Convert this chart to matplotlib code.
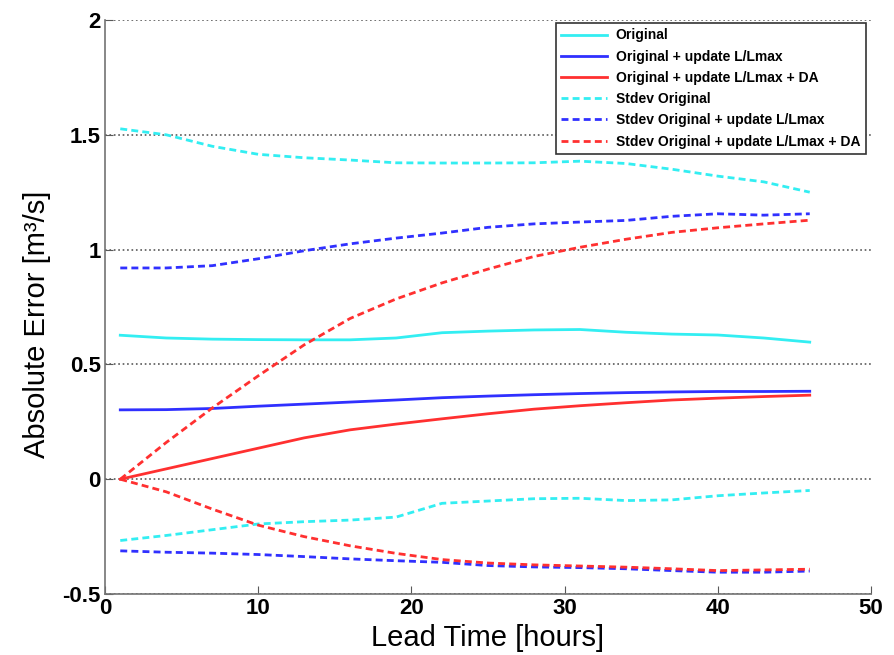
import numpy as np
import matplotlib
matplotlib.use('Agg')
import matplotlib.pyplot as plt

# lead times
lead = [1, 4, 7, 10, 13, 16, 19, 22, 25, 28, 31, 34, 37, 40, 43, 46]

orig = [0.627, 0.615, 0.610, 0.608, 0.607, 0.607, 0.615, 0.638, 0.645, 0.650, 0.652, 0.640, 0.632, 0.628, 0.615, 0.597]
orig_upd = [0.302, 0.303, 0.308, 0.318, 0.327, 0.336, 0.345, 0.355, 0.362, 0.368, 0.373, 0.377, 0.380, 0.382, 0.382, 0.383]
orig_upd_da = [0.0, 0.045, 0.090, 0.135, 0.180, 0.215, 0.240, 0.263, 0.285, 0.305, 0.320, 0.333, 0.345, 0.353, 0.360, 0.366]

std_orig_hi = [1.526, 1.500, 1.450, 1.415, 1.400, 1.390, 1.378, 1.377, 1.377, 1.378, 1.385, 1.375, 1.350, 1.320, 1.295, 1.250]
std_orig_lo = [-0.267, -0.245, -0.220, -0.195, -0.185, -0.178, -0.165, -0.105, -0.095, -0.085, -0.083, -0.093, -0.090, -0.072, -0.060, -0.049]
std_upd_hi = [0.920, 0.920, 0.930, 0.960, 0.995, 1.025, 1.050, 1.072, 1.097, 1.112, 1.120, 1.127, 1.145, 1.156, 1.150, 1.156]
std_upd_lo = [-0.312, -0.318, -0.322, -0.328, -0.337, -0.347, -0.355, -0.362, -0.376, -0.382, -0.385, -0.390, -0.398, -0.405, -0.405, -0.400]
std_da_hi = [0.0, 0.160, 0.310, 0.450, 0.585, 0.700, 0.785, 0.855, 0.915, 0.970, 1.010, 1.045, 1.075, 1.095, 1.112, 1.128]
std_da_lo = [0.0, -0.055, -0.130, -0.200, -0.250, -0.290, -0.323, -0.350, -0.365, -0.373, -0.378, -0.383, -0.390, -0.398, -0.395, -0.392]

labels = ['Original', 'Original + update L/Lmax', 'Original + update L/Lmax + DA',
          'Stdev Original', 'Stdev Original + update L/Lmax', 'Stdev Original + update L/Lmax + DA']

c_cyan = '#33eef2'
c_blue = '#3030ff'
c_red = '#ff3030'
dash = (0, (2.5, 1.5))

plt.rcParams['font.family'] = ['Liberation Sans', 'DejaVu Sans']

fig = plt.figure(figsize=(8.94, 6.55), dpi=100)
ax = fig.add_axes([0.1174, 0.0931, 0.8569, 0.8764])

ax.plot(lead, orig, color=c_cyan, lw=2, label=labels[0])
ax.plot(lead, orig_upd, color=c_blue, lw=2, label=labels[1])
ax.plot(lead, orig_upd_da, color=c_red, lw=2, label=labels[2])
ax.plot(lead, std_orig_hi, color=c_cyan, lw=2, ls=dash, label=labels[3])
ax.plot(lead, std_upd_hi, color=c_blue, lw=2, ls=dash, label=labels[4])
ax.plot(lead, std_da_hi, color=c_red, lw=2, ls=dash, label=labels[5])
ax.plot(lead, std_orig_lo, color=c_cyan, lw=2, ls=dash)
ax.plot(lead, std_upd_lo, color=c_blue, lw=2, ls=dash)
ax.plot(lead, std_da_lo, color=c_red, lw=2, ls=dash)

ax.set_xlim(0, 50)
ax.set_ylim(-0.5, 2)
ax.set_xticks([0, 10, 20, 30, 40, 50])
ax.set_yticks([-0.5, 0, 0.5, 1, 1.5, 2])
ax.set_yticklabels(['-0.5', '0', '0.5', '1', '1.5', '2'])
ax.yaxis.grid(True, linestyle=':', color='0.35', lw=1.2)
ax.set_axisbelow(True)

for s in ['top', 'right']:
    ax.spines[s].set_visible(False)
for s in ['left', 'bottom']:
    ax.spines[s].set_color('0.45')
    ax.spines[s].set_linewidth(1.2)
ax.tick_params(direction='in', length=6, color='0.35', labelsize=16, pad=3)
for t in ax.get_xticklabels() + ax.get_yticklabels():
    t.set_fontweight('bold')

ax.set_xlabel('Lead Time [hours]', fontsize=21)
ax.set_ylabel('Absolute Error [m³/s]', fontsize=21)
ax.xaxis.set_label_coords(0.5, -0.053)
ax.yaxis.set_label_coords(-0.071, 0.469)

leg = ax.legend(loc='upper right', bbox_to_anchor=(0.993, 0.995), borderaxespad=0,
                handlelength=3.3, handletextpad=0.6, labelspacing=0.52, fancybox=False,
                framealpha=1, edgecolor='0.2', prop={'weight': 'bold', 'size': 10})
leg.get_frame().set_linewidth(1.2)

fig.savefig('out.png', dpi=100)
